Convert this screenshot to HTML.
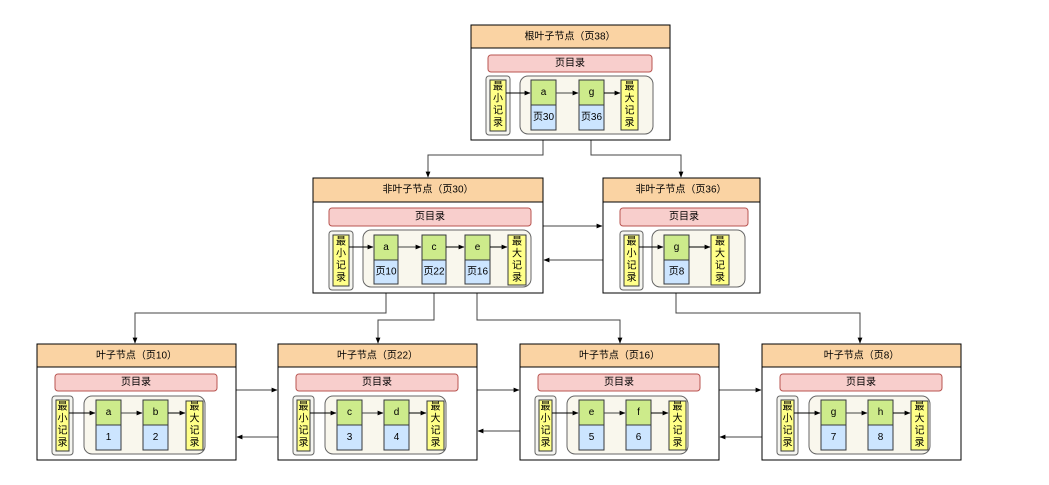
<!DOCTYPE html>
<html><head><meta charset="utf-8"><style>
html,body{margin:0;padding:0;background:#fff}
svg text{font-family:"Liberation Sans","Noto Sans CJK SC",sans-serif;font-size:10px;fill:#000;text-anchor:middle;dominant-baseline:central}
</style></head><body>
<svg width="1049" height="480" viewBox="0 0 1049 480" xmlns="http://www.w3.org/2000/svg">
<defs>
<marker id="ar" viewBox="0 0 10 10" refX="9" refY="5" markerWidth="6" markerHeight="6" orient="auto"><path d="M0,1 L10,5 L0,9 Z" fill="#000"/></marker>
</defs>
<style>
.box{fill:#fff;stroke:#000;stroke-width:1}
.hd{fill:#fad3a3;stroke:#000;stroke-width:1}
.pd{fill:#f8cecc;stroke:#b85450;stroke-width:1}
.mo{fill:#f5f5f0;stroke:#666;stroke-width:1}
.gr{fill:#f9f7ed;stroke:#666;stroke-width:1}
.y{fill:#ffff88;stroke:#36393d;stroke-width:1}
.g{fill:#cdeb8b;stroke:#36393d;stroke-width:1}
.b{fill:#cce5ff;stroke:#36393d;stroke-width:1}
.ln{fill:none;stroke:#000;stroke-width:1}
.lg{fill:none;stroke:#444;stroke-width:1}
</style>

<!-- connectors between levels -->
<path class="lg" d="M543,130 V155 H428 V177" marker-end="url(#ar)"/>
<path class="lg" d="M591,130 V155 H681 V177" marker-end="url(#ar)"/>
<path class="lg" d="M386,284 V313 H135 V343" marker-end="url(#ar)"/>
<path class="lg" d="M434,284 V320 H378 V343" marker-end="url(#ar)"/>
<path class="lg" d="M477,284 V320 H620 V343" marker-end="url(#ar)"/>
<path class="lg" d="M676,284 V313 H860 V343" marker-end="url(#ar)"/>
<path class="lg" d="M543,226 H602" marker-end="url(#ar)"/>
<path class="lg" d="M603,260 H544" marker-end="url(#ar)"/>
<path class="lg" d="M236,390 H277" marker-end="url(#ar)"/>
<path class="lg" d="M278,437 H237" marker-end="url(#ar)"/>
<path class="lg" d="M477,390 H519" marker-end="url(#ar)"/>
<path class="lg" d="M520,431 H478" marker-end="url(#ar)"/>
<path class="lg" d="M719,390 H761" marker-end="url(#ar)"/>
<path class="lg" d="M762,437 H720" marker-end="url(#ar)"/>

<!-- ROOT -->
<rect class="box" x="471" y="25" width="199" height="115"/>
<rect class="hd" x="471" y="25" width="199" height="23"/>
<text x="570" y="37">根叶子节点（页38）</text>
<rect class="pd" x="488" y="55" width="164" height="17" rx="3"/>
<text x="570" y="63.5">页目录</text>
<rect class="mo" x="486" y="76" width="24" height="59" rx="3"/>
<rect class="y" x="490" y="80" width="16" height="51"/>
<text x="498" y="87">最</text><text x="498" y="99">小</text><text x="498" y="111">记</text><text x="498" y="123">录</text>
<rect class="gr" x="520" y="76" width="133" height="58" rx="8"/>
<path class="ln" d="M506,93 H530" marker-end="url(#ar)"/>
<rect class="g" x="531" y="80" width="25" height="25"/><text x="543.5" y="92.5">a</text>
<rect class="b" x="531" y="105" width="25" height="25"/><text x="543.5" y="117.5">页30</text>
<path class="lg" d="M556,93 H578" marker-end="url(#ar)"/>
<rect class="g" x="579" y="80" width="25" height="25"/><text x="591.5" y="92.5">g</text>
<rect class="b" x="579" y="105" width="25" height="25"/><text x="591.5" y="117.5">页36</text>
<path class="ln" d="M604,93 H620" marker-end="url(#ar)"/>
<rect class="y" x="621" y="80" width="17" height="50"/>
<text x="629.5" y="87">最</text><text x="629.5" y="99">大</text><text x="629.5" y="111">记</text><text x="629.5" y="123">录</text>

<!-- NONLEAF 30 -->
<rect class="box" x="313" y="178" width="230" height="115"/>
<rect class="hd" x="313" y="178" width="230" height="24"/>
<text x="428" y="190">非叶子节点（页30）</text>
<rect class="pd" x="329" y="208" width="202" height="18" rx="3"/>
<text x="430" y="217">页目录</text>
<rect class="mo" x="329" y="231" width="24" height="59" rx="3"/>
<rect class="y" x="333" y="235" width="16" height="51"/>
<text x="341" y="242">最</text><text x="341" y="254">小</text><text x="341" y="266">记</text><text x="341" y="278">录</text>
<rect class="gr" x="363" y="230" width="168" height="57" rx="8"/>
<path class="ln" d="M349,247 H373" marker-end="url(#ar)"/>
<rect class="g" x="374" y="235" width="24" height="25"/><text x="386" y="247.5">a</text>
<rect class="b" x="374" y="260" width="24" height="24"/><text x="386" y="272">页10</text>
<path class="lg" d="M398,247 H421" marker-end="url(#ar)"/>
<rect class="g" x="422" y="235" width="24" height="25"/><text x="434" y="247.5">c</text>
<rect class="b" x="422" y="260" width="24" height="24"/><text x="434" y="272">页22</text>
<path class="ln" d="M446,247 H464" marker-end="url(#ar)"/>
<rect class="g" x="465" y="235" width="25" height="25"/><text x="477.5" y="247.5">e</text>
<rect class="b" x="465" y="260" width="25" height="24"/><text x="477.5" y="272">页16</text>
<path class="ln" d="M490,247 H507" marker-end="url(#ar)"/>
<rect class="y" x="508" y="235" width="18" height="50"/>
<text x="517" y="242">最</text><text x="517" y="254">大</text><text x="517" y="266">记</text><text x="517" y="278">录</text>

<!-- NONLEAF 36 -->
<rect class="box" x="603" y="178" width="157" height="115"/>
<rect class="hd" x="603" y="178" width="157" height="24"/>
<text x="681" y="190">非叶子节点（页36）</text>
<rect class="pd" x="620" y="208" width="128" height="18" rx="3"/>
<text x="684" y="217">页目录</text>
<rect class="mo" x="620" y="231" width="23" height="59" rx="3"/>
<rect class="y" x="624" y="235" width="15" height="51"/>
<text x="631.5" y="242">最</text><text x="631.5" y="254">小</text><text x="631.5" y="266">记</text><text x="631.5" y="278">录</text>
<rect class="gr" x="652" y="230" width="93" height="57" rx="8"/>
<path class="ln" d="M639,247 H663" marker-end="url(#ar)"/>
<rect class="g" x="664" y="235" width="25" height="25"/><text x="676.5" y="247.5">g</text>
<rect class="b" x="664" y="260" width="25" height="24"/><text x="676.5" y="272">页8</text>
<path class="ln" d="M689,247 H710" marker-end="url(#ar)"/>
<rect class="y" x="711" y="235" width="18" height="50"/>
<text x="720" y="242">最</text><text x="720" y="254">大</text><text x="720" y="266">记</text><text x="720" y="278">录</text>

<!-- LEAVES -->
<g id="leaf10" transform="translate(37,344)">
<rect class="box" x="0" y="0" width="199" height="116"/>
<rect class="hd" x="0" y="0" width="199" height="23"/>
<text x="99.5" y="12">叶子节点（页10）</text>
<rect class="pd" x="18" y="30" width="162" height="17" rx="3"/>
<text x="99" y="38.5">页目录</text>
<rect class="mo" x="15" y="52" width="21" height="59" rx="3"/>
<rect class="y" x="19" y="56" width="13" height="51"/>
<text x="25.5" y="63">最</text><text x="25.5" y="75">小</text><text x="25.5" y="87">记</text><text x="25.5" y="99">录</text>
<rect class="gr" x="47" y="52" width="121" height="58" rx="8"/>
<path class="ln" d="M32,69 H58" marker-end="url(#ar)"/>
<rect class="g" x="59" y="56" width="25" height="25"/><text x="71.5" y="68.5">a</text>
<rect class="b" x="59" y="81" width="25" height="25"/><text x="71.5" y="93.5">1</text>
<path class="lg" d="M84,69 H105" marker-end="url(#ar)"/>
<rect class="g" x="106" y="56" width="25" height="25"/><text x="118.5" y="68.5">b</text>
<rect class="b" x="106" y="81" width="25" height="25"/><text x="118.5" y="93.5">2</text>
<path class="ln" d="M131,69 H148" marker-end="url(#ar)"/>
<rect class="y" x="149" y="57" width="17" height="49"/>
<text x="157.5" y="63">最</text><text x="157.5" y="75">大</text><text x="157.5" y="87">记</text><text x="157.5" y="99">录</text>
</g>
<g transform="translate(278,344)">
<rect class="box" x="0" y="0" width="199" height="116"/>
<rect class="hd" x="0" y="0" width="199" height="23"/>
<text x="99.5" y="12">叶子节点（页22）</text>
<rect class="pd" x="18" y="30" width="162" height="17" rx="3"/>
<text x="99" y="38.5">页目录</text>
<rect class="mo" x="15" y="52" width="21" height="59" rx="3"/>
<rect class="y" x="19" y="56" width="13" height="51"/>
<text x="25.5" y="63">最</text><text x="25.5" y="75">小</text><text x="25.5" y="87">记</text><text x="25.5" y="99">录</text>
<rect class="gr" x="47" y="52" width="121" height="58" rx="8"/>
<path class="ln" d="M32,69 H58" marker-end="url(#ar)"/>
<rect class="g" x="59" y="56" width="25" height="25"/><text x="71.5" y="68.5">c</text>
<rect class="b" x="59" y="81" width="25" height="25"/><text x="71.5" y="93.5">3</text>
<path class="lg" d="M84,69 H105" marker-end="url(#ar)"/>
<rect class="g" x="106" y="56" width="25" height="25"/><text x="118.5" y="68.5">d</text>
<rect class="b" x="106" y="81" width="25" height="25"/><text x="118.5" y="93.5">4</text>
<path class="ln" d="M131,69 H148" marker-end="url(#ar)"/>
<rect class="y" x="149" y="57" width="17" height="49"/>
<text x="157.5" y="63">最</text><text x="157.5" y="75">大</text><text x="157.5" y="87">记</text><text x="157.5" y="99">录</text>
</g>
<g transform="translate(520,344)">
<rect class="box" x="0" y="0" width="199" height="116"/>
<rect class="hd" x="0" y="0" width="199" height="23"/>
<text x="99.5" y="12">叶子节点（页16）</text>
<rect class="pd" x="18" y="30" width="162" height="17" rx="3"/>
<text x="99" y="38.5">页目录</text>
<rect class="mo" x="15" y="52" width="21" height="59" rx="3"/>
<rect class="y" x="19" y="56" width="13" height="51"/>
<text x="25.5" y="63">最</text><text x="25.5" y="75">小</text><text x="25.5" y="87">记</text><text x="25.5" y="99">录</text>
<rect class="gr" x="47" y="52" width="121" height="58" rx="8"/>
<path class="ln" d="M32,69 H58" marker-end="url(#ar)"/>
<rect class="g" x="59" y="56" width="25" height="25"/><text x="71.5" y="68.5">e</text>
<rect class="b" x="59" y="81" width="25" height="25"/><text x="71.5" y="93.5">5</text>
<path class="lg" d="M84,69 H105" marker-end="url(#ar)"/>
<rect class="g" x="106" y="56" width="25" height="25"/><text x="118.5" y="68.5">f</text>
<rect class="b" x="106" y="81" width="25" height="25"/><text x="118.5" y="93.5">6</text>
<path class="ln" d="M131,69 H148" marker-end="url(#ar)"/>
<rect class="y" x="149" y="57" width="17" height="49"/>
<text x="157.5" y="63">最</text><text x="157.5" y="75">大</text><text x="157.5" y="87">记</text><text x="157.5" y="99">录</text>
</g>
<g transform="translate(762,344)">
<rect class="box" x="0" y="0" width="199" height="116"/>
<rect class="hd" x="0" y="0" width="199" height="23"/>
<text x="99.5" y="12">叶子节点（页8）</text>
<rect class="pd" x="18" y="30" width="162" height="17" rx="3"/>
<text x="99" y="38.5">页目录</text>
<rect class="mo" x="15" y="52" width="21" height="59" rx="3"/>
<rect class="y" x="19" y="56" width="13" height="51"/>
<text x="25.5" y="63">最</text><text x="25.5" y="75">小</text><text x="25.5" y="87">记</text><text x="25.5" y="99">录</text>
<rect class="gr" x="47" y="52" width="121" height="58" rx="8"/>
<path class="ln" d="M32,69 H58" marker-end="url(#ar)"/>
<rect class="g" x="59" y="56" width="25" height="25"/><text x="71.5" y="68.5">g</text>
<rect class="b" x="59" y="81" width="25" height="25"/><text x="71.5" y="93.5">7</text>
<path class="lg" d="M84,69 H105" marker-end="url(#ar)"/>
<rect class="g" x="106" y="56" width="25" height="25"/><text x="118.5" y="68.5">h</text>
<rect class="b" x="106" y="81" width="25" height="25"/><text x="118.5" y="93.5">8</text>
<path class="ln" d="M131,69 H148" marker-end="url(#ar)"/>
<rect class="y" x="149" y="57" width="17" height="49"/>
<text x="157.5" y="63">最</text><text x="157.5" y="75">大</text><text x="157.5" y="87">记</text><text x="157.5" y="99">录</text>
</g>
</svg>
</body></html>
